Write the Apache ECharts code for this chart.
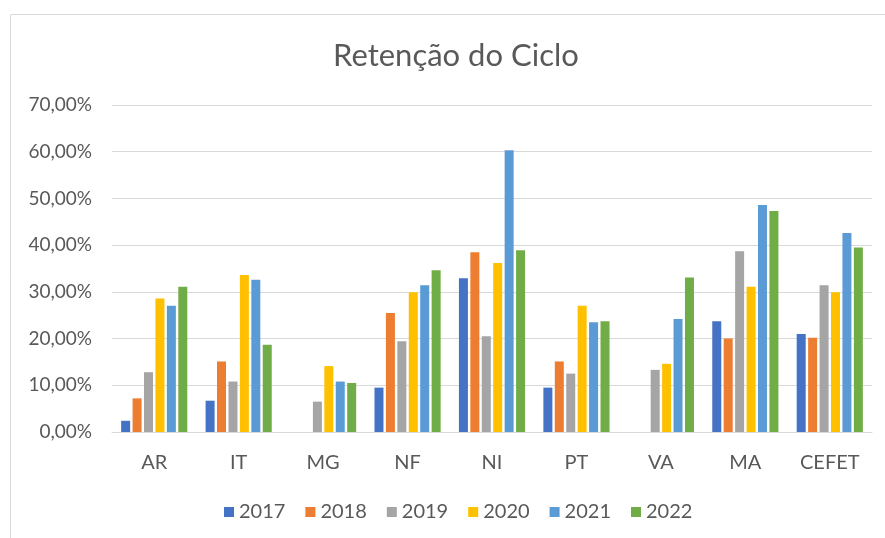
<!DOCTYPE html>
<html>
<head>
<meta charset="utf-8">
<script src="https://cdn.jsdelivr.net/npm/echarts@6/dist/echarts.min.js"></script>
<style>
html,body{margin:0;padding:0;background:#fff;}
#c{width:885px;height:538px;}
</style>
</head>
<body>
<div id="c"></div>
<script>
const categories = ['AR','IT','MG','NF','NI','PT','VA','MA','CEFET'];
const years = ['2017','2018','2019','2020','2021','2022'];
const v2017 = [2.4, 6.7, null, 9.5, 32.9, 9.5, null, 23.7, 21.0];
const v2018 = [7.2, 15.1, null, 25.5, 38.5, 15.1, null, 20.0, 20.2];
const v2019 = [12.8, 10.8, 6.5, 19.4, 20.5, 12.5, 13.3, 38.7, 31.4];
const v2020 = [28.6, 33.6, 14.1, 29.9, 36.2, 27.0, 14.6, 31.1, 29.9];
const v2021 = [27.0, 32.6, 10.8, 31.4, 60.3, 23.5, 24.2, 48.6, 42.6];
const v2022 = [31.1, 18.7, 10.5, 34.6, 38.9, 23.7, 33.1, 47.3, 39.5];
const yTicks = [0, 10, 20, 30, 40, 50, 60, 70];
const colors = ['#4472C4','#ED7D31','#A5A5A5','#FFC000','#5B9BD5','#70AD47'];
const allValues = [v2017, v2018, v2019, v2020, v2021, v2022];

const FONT = 'Lato';
const TXT = '#595959';
const chart = echarts.init(document.getElementById('c'));
chart.setOption({
  animation: false,
  color: colors,
  graphic: [{
    type: 'rect', left: 8, top: 12, z: -1,
    shape: {width: 900, height: 560},
    style: {fill: 'none', stroke: '#D9D9D9', lineWidth: 1}
  }],
  title: {
    text: 'Retenção do Ciclo', left: 328, top: 35,
    textStyle: {fontFamily: FONT, fontSize: 31, fontWeight: 'normal', color: TXT}
  },
  legend: {
    data: years, bottom: 11, left: 219,
    itemWidth: 10, itemHeight: 10, itemGap: 20,
    icon: 'rect',
    textStyle: {fontFamily: FONT, fontSize: 20, color: TXT, padding: [0,0,0,0]}
  },
  grid: {left: 112, right: 13, top: 105, bottom: 106, containLabel: false},
  xAxis: {
    type: 'category', data: categories,
    axisLine: {lineStyle: {color: '#D9D9D9'}},
    axisTick: {show: false},
    axisLabel: {fontFamily: FONT, fontSize: 20, color: TXT, margin: 21}
  },
  yAxis: {
    type: 'value', min: 0, max: 70, interval: 10,
    data: yTicks,
    axisLine: {show: false}, axisTick: {show: false},
    splitLine: {lineStyle: {color: '#D9D9D9', width: 1}},
    axisLabel: {
      fontFamily: FONT, fontSize: 19, color: TXT, margin: 20,
      formatter: v => v.toFixed(2).replace('.', ',') + '%'
    }
  },
  series: years.map((y, i) => ({
    name: y, type: 'bar', data: allValues[i],
    barWidth: 9, barGap: '27%'
  }))
});
</script>
</body>
</html>
